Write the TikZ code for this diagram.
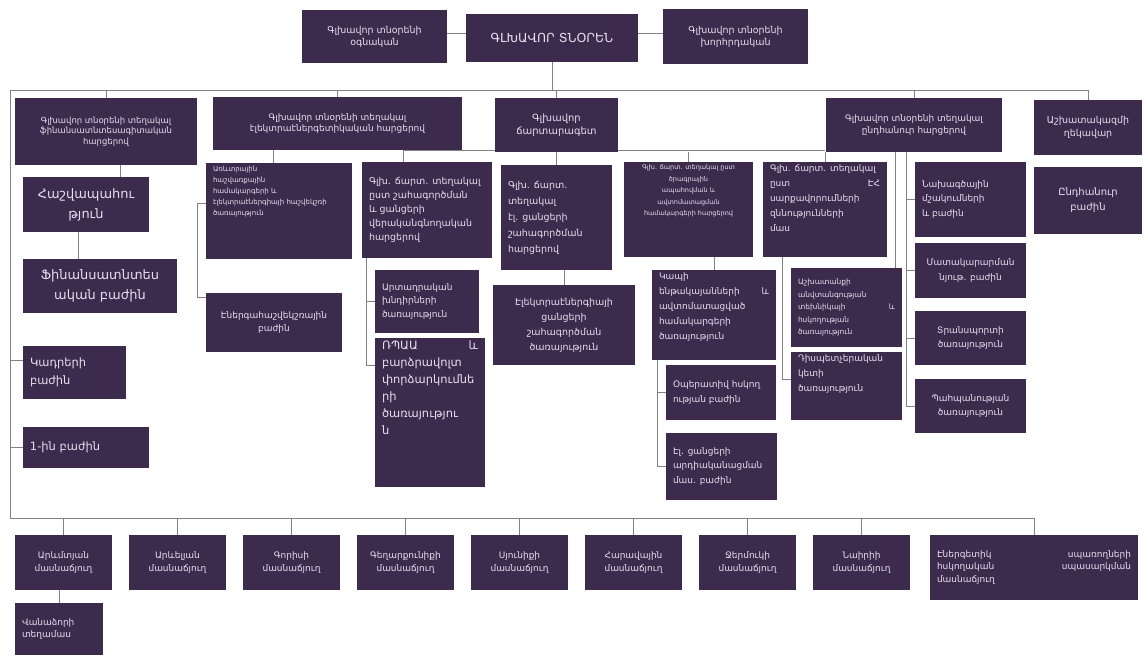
\documentclass[tikz,border=0pt]{standalone}
\usepackage{fontspec}
\setmainfont{DejaVu Sans}
\definecolor{boxc}{RGB}{60,43,77}
\definecolor{txtc}{RGB}{232,224,240}
\definecolor{linec}{RGB}{130,130,130}
\pgfdeclarelayer{back}
\pgfdeclarelayer{bg}
\pgfsetlayers{back,bg,main}
\newcommand{\fsz}[2]{\fontsize{#1}{#2}\selectfont}
\newcommand{\obox}[8][c]{%
 \pgfmathsetmacro{\obw}{#5-#3}\pgfmathsetmacro{\obh}{#6-#4}%
 \node[ob,minimum width=\obw bp,minimum height=\obh bp] (#2) at ({(#3+#5)/2},{(#4+#6)/2})
  {\parbox[c][\dimexpr\obh bp-6bp\relax][#1]{\dimexpr\obw bp-14bp\relax}{#7#8}};}
\begin{document}
\begin{tikzpicture}[x=1bp,y=-1bp,
  ob/.style={rectangle,fill=boxc,inner sep=0pt,text=txtc,font=\fsz{8}{10}},
  ln/.style={draw=linec,line width=0.9bp}]
\begin{pgfonlayer}{back}
\fill[white] (0,0) rectangle (1146,657);
\end{pgfonlayer}
\useasboundingbox (0,0) rectangle (1146,657);
% top
\obox{asst}{302}{10}{447}{63}{\centering\fsz{9.5}{12}}{Գլխավոր տնօրենի\\օգնական}
\obox{dir}{466}{14}{638}{62}{\centering\fsz{12.5}{14}}{ԳԼԽԱՎՈՐ ՏՆՕՐԵՆ}
\obox{adv}{663}{9}{808}{64}{\centering\fsz{9.5}{12}}{Գլխավոր տնօրենի\\խորհրդական}
% row 2
\obox{A}{15}{98}{197}{165}{\centering\fsz{8.5}{10.5}}{Գլխավոր տնօրենի տեղակալ\\ֆինանսատնտեսագիտական\\հարցերով}
\obox{B}{213}{97}{462}{150}{\centering\fsz{9}{11.5}}{Գլխավոր տնօրենի տեղակալ\\էլեկտրաէներգետիկական հարցերով}
\obox{C}{495}{98}{618}{152}{\centering\fsz{10}{13}}{Գլխավոր\\ճարտարագետ}
\obox{D}{826}{98}{1002}{152}{\centering\fsz{9}{12}}{Գլխավոր տնօրենի տեղակալ\\ընդհանուր հարցերով}
\obox{E}{1034}{100}{1142}{155}{\centering\fsz{9.5}{13}}{Աշխատակազմի\\ղեկավար}
% A children
\obox{a1}{23}{177}{149}{232}{\centering\fsz{13}{20}}{Հաշվապահու\\թյուն}
\obox{a2}{23}{259}{177}{313}{\centering\fsz{13}{20}}{Ֆինանսատնտես\\ական բաժին}
\obox{a3}{23}{346}{126}{399}{\raggedright\fsz{11.5}{18}}{Կադրերի\\բաժին}
\obox{a4}{23}{427}{149}{468}{\raggedright\fsz{11.5}{16}}{1-ին բաժին}
% B children
\obox[t]{b1}{206}{163}{352}{259}{\raggedright\fsz{7}{11}}{Առևտրային\\հաշվառքային\\համակարգերի և\\էլեկտրաէներգիայի հաշվեկշռի\\ծառայություն}
\obox{b2}{206}{293}{342}{352}{\centering\fsz{9}{14}}{Էներգահաշվեկշռային\\բաժին}
% C children
\obox{c1}{362}{162}{492}{258}{\raggedright\fsz{9.5}{14}}{Գլխ. ճարտ. տեղակալ\\ըստ շահագործման\\և ցանցերի\\վերականգնողական\\հարցերով}
\obox{c2}{501}{165}{612}{270}{\raggedright\fsz{9.5}{16}}{Գլխ. ճարտ.\\տեղակալ\\էլ. ցանցերի\\շահագործման\\հարցերով}
\obox[t]{c3}{624}{162}{753}{257}{\centering\fsz{6.5}{11.5}}{Գլխ. ճարտ. տեղակալ ըստ\\ծրագրային\\ապահովման և\\ավտոմատացման\\համակարգերի հարցերով}
\obox[t]{c4}{763}{162}{887}{257}{\raggedright\fsz{9}{15}}{Գլխ. ճարտ. տեղակալ\\ըստ \hfill ԷՀ\\սարքավորումների\\զննությունների\\մաս}
\obox{c1a}{375}{270}{479}{333}{\raggedright\fsz{9}{14}}{Արտադրական\\խնդիրների\\ծառայություն}
\obox[t]{c1b}{375}{338}{485}{487}{\raggedright\fsz{11.5}{17}}{ՌՊԱԱ \hfill և\\բարձրավոլտ\\փորձարկումնե\\րի\\ծառայությու\\ն}
\obox{c2a}{493}{285}{635}{365}{\centering\fsz{9.5}{15}}{Էլեկտրաէներգիայի\\ցանցերի\\շահագործման\\ծառայություն}
\obox[t]{c3a}{652}{270}{776}{360}{\raggedright\fsz{9}{15}}{Կապի\\ենթակայանների \hfill և\\ավտոմատացված\\համակարգերի\\ծառայություն}
\obox{c3b}{666}{365}{776}{420}{\raggedright\fsz{9}{15}}{Օպերատիվ հսկող\\ության բաժին}
\obox{c3c}{666}{433}{777}{500}{\raggedright\fsz{9}{15}}{Էլ. ցանցերի\\արդիականացման\\մաս. բաժին}
\obox{c4a}{791}{268}{902}{347}{\raggedright\fsz{7.5}{12.5}}{Աշխատանքի\\անվտանգության\\տեխնիկայի \hfill և\\հսկողության\\ծառայություն}
\obox[t]{c4b}{791}{352}{902}{420}{\raggedright\fsz{9}{15}}{Դիսպետչերական\\կետի\\ծառայություն}
% D children
\obox{d1}{915}{162}{1026}{237}{\raggedright\fsz{9}{15}}{Նախագծային\\մշակումների\\և բաժին}
\obox{d2}{915}{243}{1026}{298}{\centering\fsz{9}{15}}{Մատակարարման\\նյութ. բաժին}
\obox{d3}{915}{311}{1026}{365}{\centering\fsz{9}{15}}{Տրանսպորտի\\ծառայություն}
\obox{d4}{915}{379}{1026}{433}{\centering\fsz{9}{15}}{Պահպանության\\ծառայություն}
% E child
\obox{e1}{1034}{167}{1142}{234}{\centering\fsz{10}{15}}{Ընդհանուր\\բաժին}
% bottom row
\obox{w1}{15}{535}{112}{590}{\centering\fsz{9}{13}}{Արևմտյան\\մասնաճյուղ}
\obox{w2}{129}{535}{226}{590}{\centering\fsz{9}{13}}{Արևելյան\\մասնաճյուղ}
\obox{w3}{243}{535}{340}{590}{\centering\fsz{9}{13}}{Գորիսի\\մասնաճյուղ}
\obox{w4}{357}{535}{454}{590}{\centering\fsz{9}{13}}{Գեղարքունիքի\\մասնաճյուղ}
\obox{w5}{471}{535}{568}{590}{\centering\fsz{9}{13}}{Սյունիքի\\մասնաճյուղ}
\obox{w6}{585}{535}{682}{590}{\centering\fsz{9}{13}}{Հարավային\\մասնաճյուղ}
\obox{w7}{699}{535}{796}{590}{\centering\fsz{9}{13}}{Ջերմուկի\\մասնաճյուղ}
\obox{w8}{813}{535}{910}{590}{\centering\fsz{9}{13}}{Նաիրիի\\մասնաճյուղ}
\obox{w9}{930}{535}{1138}{600}{\raggedright\fsz{9}{13}}{Էներգետիկ \hfill սպառողների\\հսկողական \hfill սպասարկման\\մասնաճյուղ}
\obox{w1s}{15}{603}{103}{655}{\raggedright\fsz{9}{13}}{Վանաձորի\\տեղամաս}
% connectors
\coordinate (tl) at (10,90);
\coordinate (bl) at (10,518);
\begin{pgfonlayer}{bg}
\draw[ln] ([yshift=5bp]dir.west) -- ([yshift=5bp]dir.west -| asst.east);
\draw[ln] ([yshift=5bp]dir.east) -- ([yshift=5bp]dir.east -| adv.west);
\draw[ln] (dir.south) -- (dir.south |- tl);
\draw[ln] (tl) -- (tl -| E.north) -- (E.north);
\foreach \n in {A,B,C,D} \draw[ln] (\n.north) -- (\n.north |- tl);
\draw[ln] (tl) -- (bl) -- (bl -| w9.north) -- (w9.north);
\foreach \n in {w1,w2,w3,w4,w5,w6,w7,w8} \draw[ln] (\n.north) -- (\n.north |- bl);
\draw[ln] (w1s.north) -- (w1s.north |- w1.south);
\draw[ln] ([yshift=12bp]a3.west) -- ([yshift=12bp]a3.west -| tl);
\draw[ln] (a4.west) -- (a4.west -| tl);
% A
\draw[ln] ([xshift=34bp]a1.north) -- ([xshift=34bp]a1.north |- A.south);
\draw[ln] ([xshift=-8bp]a1.south) -- ([xshift=-8bp]a1.south |- a2.north);
% B
\draw[ln] ([xshift=-6bp]b1.north) -- ([xshift=-6bp]b1.north |- B.south);
\draw[ln] ([yshift=8bp]b1.west) -- ++(-8,0) |- ([yshift=25bp]b2.west);
% C bus
\draw[ln] ([xshift=-24bp]c1.north |- B.south) -- (c4.north |- B.south);
\draw[ln] ([xshift=-24bp]c1.north) -- ([xshift=-24bp]c1.north |- B.south);
\foreach \n in {c2,c3,c4} \draw[ln] (\n.north) -- (\n.north |- C.south);
% C1
\draw[ln] ([xshift=5bp]c1.south west) |- (c1a.west);
\draw[ln] ([xshift=5bp]c1.south west) |- ([yshift=47bp]c1b.west);
% C2
\draw[ln] (c2a.north) -- (c2a.north |- c2.south);
% C3
\draw[ln] (c3a.north) -- (c3a.north |- c3.south);
\draw[ln] ([xshift=6bp]c3a.south west) |- (c3b.west);
\draw[ln] ([xshift=6bp]c3a.south west) |- (c3c.west);
% C4
\draw[ln] ([xshift=20bp]c4.south west) |- ([yshift=7bp]c4b.west);
% D
\draw[ln] ([xshift=-7bp]c4a.north east) -- ([xshift=-7bp]c4a.north east |- D.south);
\foreach \n in {d1,d2,d3,d4} \draw[ln] ([xshift=81bp]D.south west) |- (\n.west);
\end{pgfonlayer}
\end{tikzpicture}
\end{document}
